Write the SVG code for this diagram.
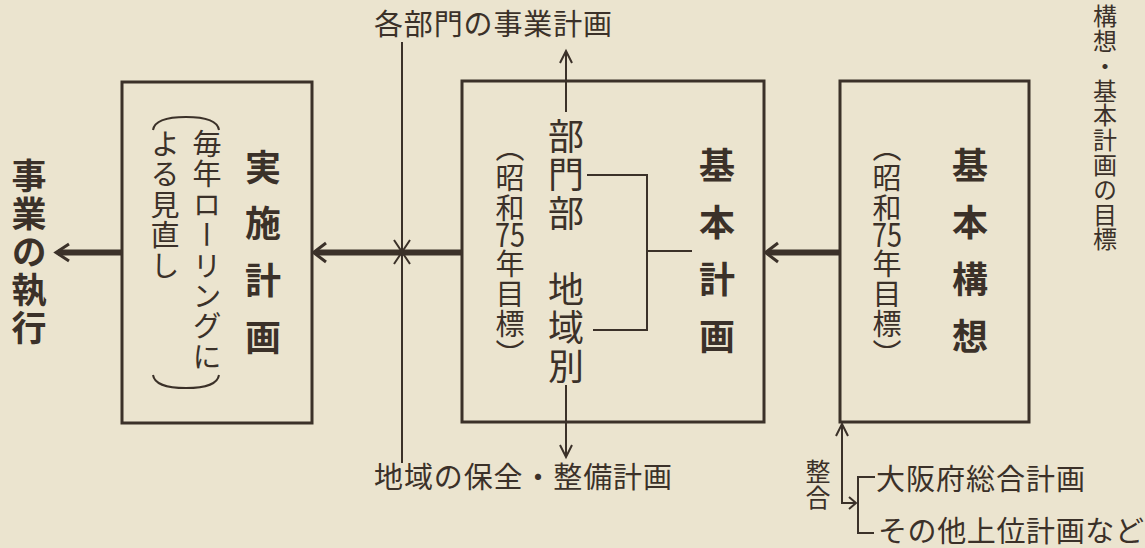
<svg xmlns="http://www.w3.org/2000/svg" width="1145" height="548" viewBox="0 0 1145 548">
<style>
.bg{fill:#ebe4cf}
.box{fill:none;stroke:#3b3129;stroke-width:3}
.ln{fill:none;stroke:#3b3129;stroke-width:2}
.thick{fill:none;stroke:#3b3129;stroke-width:6}
.head{fill:none;stroke:#3b3129;stroke-width:3;stroke-linejoin:miter}
.t{font-family:"Noto Sans CJK JP","Noto Sans",sans-serif;fill:#3b3129}
.v{writing-mode:vertical-rl}
.b{font-weight:bold}
</style>
<rect class="bg" x="0" y="0" width="1145" height="548"/>
<g id="connectors">
<path class="thick" d="M122,252.5 H58"/>
<path class="head" d="M69,244 L56,252.5 L69,261"/>
<path class="thick" d="M462,252.5 H316"/>
<path class="head" d="M326,243 L313.5,252.5 L326,262"/>
<path class="thick" d="M840,252.5 H768"/>
<path class="head" d="M778,243 L765.5,252.5 L778,262"/>
<path class="ln" d="M402,42 V463"/>
<path class="ln" d="M394,240 L410,264 M410,240 L394,264"/>
<path class="ln" d="M566,112 V51"/>
<path class="ln" d="M560,63 L566,51 L572,63"/>
<path class="ln" d="M566,385 V457"/>
<path class="ln" d="M560,445 L566,457 L572,445"/>
<path class="ln" d="M587,175 H647 V330 H593 M647,251 H692"/>
<path class="ln" d="M842,425 V503 H855"/>
<path class="ln" d="M836,436 L842,424 L848,436"/>
<path class="ln" d="M849,497 L856,503 L849,509"/>
<path class="ln" d="M875,477 H858 V533 H874"/>
</g>
<g id="exec">
<text class="t v b" x="29" y="158" font-size="35" letter-spacing="3">事業の執行</text>
</g>
<g id="jisshi">
<rect class="box" x="122" y="82" width="190" height="341"/>
<text class="t v b" x="263" y="149" font-size="36" letter-spacing="20.7">実施計画</text>
<path class="ln" d="M153,130 Q155,117 186,117 Q217,117 219,130"/>
<text class="t v" x="207" y="129.5" font-size="29" letter-spacing="1.4">毎年ローリングに</text>
<text class="t v" x="165" y="129.5" font-size="29" letter-spacing="1.4">よる見直し</text>
<path class="ln" d="M153,375 Q155,388 186,388 Q217,388 219,375"/>
</g>
<g id="kihon-keikaku">
<rect class="box" x="462" y="81" width="302" height="341"/>
<text class="t v" x="510" y="133" font-size="29" letter-spacing="1">（昭和</text>
<text class="t" x="510" y="247" font-size="33" text-anchor="middle" textLength="30" lengthAdjust="spacingAndGlyphs">75</text>
<text class="t v" x="510" y="249" font-size="29" letter-spacing="1">年目標）</text>
<text class="t v" x="566" y="118" font-size="36" letter-spacing="2.5">部門部</text>
<text class="t v" x="566" y="271" font-size="36" letter-spacing="2.5">地域別</text>
<text class="t v b" x="717" y="147" font-size="36" letter-spacing="21">基本計画</text>
</g>
<g id="kihon-koso">
<rect class="box" x="840" y="81" width="189" height="341"/>
<text class="t v" x="887" y="133" font-size="29" letter-spacing="1">（昭和</text>
<text class="t" x="887" y="247" font-size="33" text-anchor="middle" textLength="30" lengthAdjust="spacingAndGlyphs">75</text>
<text class="t v" x="887" y="249" font-size="29" letter-spacing="1">年目標）</text>
<text class="t v b" x="970" y="147" font-size="36" letter-spacing="21">基本構想</text>
</g>
<g id="labels">
<text class="t" x="374" y="35" font-size="29" textLength="238" lengthAdjust="spacing">各部門の事業計画</text>
<text class="t" x="374" y="488" font-size="29" textLength="298" lengthAdjust="spacing">地域の保全・整備計画</text>
<text class="t v" x="1105" y="4" font-size="24" letter-spacing="0.8">構想・基本計画の目標</text>
<text class="t v" x="818" y="459" font-size="25" letter-spacing="1">整合</text>
<text class="t" x="876" y="490" font-size="29" textLength="209" lengthAdjust="spacing">大阪府総合計画</text>
<text class="t" x="878" y="542" font-size="29" textLength="266" lengthAdjust="spacing">その他上位計画など</text>
</g>
</svg>
